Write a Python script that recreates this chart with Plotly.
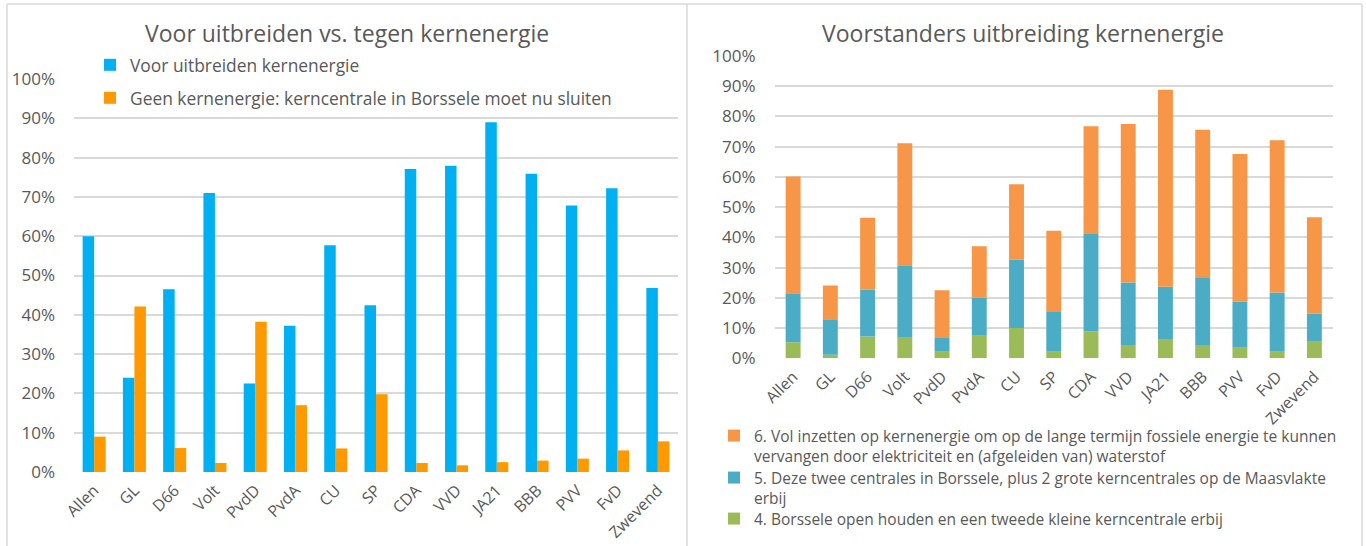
import numpy as np
import plotly.graph_objects as go

W, H = 1366, 546

categories = ["Allen", "GL", "D66", "Volt", "PvdD", "PvdA", "CU", "SP", "CDA",
              "VVD", "JA21", "BBB", "PVV", "FvD", "Zwevend"]

# Left chart: voor uitbreiden vs. tegen kernenergie (%)
voor_uitbreiden = [60.0, 24.0, 46.5, 71.0, 22.5, 37.2, 57.7, 42.4, 77.1, 77.9, 89.0, 75.9, 67.8, 72.2, 46.8]
geen_kernenergie = [9.0, 42.1, 6.1, 2.3, 38.2, 17.0, 6.0, 19.8, 2.3, 1.7, 2.5, 2.9, 3.4, 5.5, 7.8]

# Right chart: voorstanders uitbreiding, stacked segments (%)
optie4_borssele_klein = [5.3, 1.2, 7.2, 6.8, 2.2, 7.5, 10.0, 2.2, 8.9, 4.4, 6.4, 4.4, 3.5, 2.2, 5.5]
optie5_maasvlakte = [16.2, 11.7, 15.6, 24.0, 4.5, 12.5, 22.7, 13.1, 32.2, 20.7, 17.3, 22.2, 15.2, 19.6, 9.2]
optie6_vol_inzetten = [38.6, 11.2, 23.7, 40.3, 15.8, 17.1, 24.9, 26.9, 35.7, 52.4, 65.1, 49.0, 48.9, 50.3, 32.0]

tick_vals = [0, 10, 20, 30, 40, 50, 60, 70, 80, 90, 100]
tick_text = ["0%", "10%", "20%", "30%", "40%", "50%", "60%", "70%", "80%", "90%", "100%"]

FONT = "Open Sans, Liberation Sans, sans-serif"
TXT = "#595959"
GRID = "#d9d9d9"


def px(x):
    return x / W


def py(y):
    return 1 - y / H


fig = go.Figure()

# left chart
fig.add_trace(go.Bar(x=categories, y=voor_uitbreiden, name="Voor uitbreiden kernenergie",
                     marker=dict(color="#00B0F0", line=dict(width=0)),
                     width=0.2857, offset=-0.2857, xaxis="x", yaxis="y", legend="legend"))
fig.add_trace(go.Bar(x=categories, y=geen_kernenergie,
                     name="Geen kernenergie: kerncentrale in Borssele moet nu sluiten",
                     marker=dict(color="#FF9900", line=dict(width=0)),
                     width=0.2857, offset=0.0, xaxis="x", yaxis="y", legend="legend2"))

# right chart (stacked via base computed from data)
g = np.array(optie4_borssele_klein)
b = np.array(optie5_maasvlakte)
o = np.array(optie6_vol_inzetten)
fig.add_trace(go.Bar(x=categories, y=g, base=np.zeros_like(g),
                     name="4. Borssele open houden en een tweede kleine kerncentrale erbij",
                     marker=dict(color="#9BBB59", line=dict(width=0)),
                     width=0.4, offset=-0.2, xaxis="x2", yaxis="y2", legend="legend5"))
fig.add_trace(go.Bar(x=categories, y=b, base=g,
                     name="5. Deze twee centrales in Borssele, plus 2 grote kerncentrales op de Maasvlakte<br>erbij",
                     marker=dict(color="#4BACC6", line=dict(width=0)),
                     width=0.4, offset=-0.2, xaxis="x2", yaxis="y2", legend="legend4"))
fig.add_trace(go.Bar(x=categories, y=o, base=g + b,
                     name="6. Vol inzetten op kernenergie om op de lange termijn fossiele energie te kunnen<br>vervangen door elektriciteit en (afgeleiden van) waterstof",
                     marker=dict(color="#F79646", line=dict(width=0)),
                     width=0.4, offset=-0.2, xaxis="x2", yaxis="y2", legend="legend3"))

axis_common = dict(showline=False, zeroline=False, ticks="", automargin=False,
                   ticklabelstandoff=5,
                   tickfont=dict(family=FONT, size=16, color=TXT))
yaxis_common = dict(range=[0, 100], tickvals=tick_vals, ticktext=tick_text,
                    showgrid=True, gridcolor=GRID, gridwidth=1.5,
                    zeroline=False, showline=False, ticks="", automargin=False,
                    ticklabelstandoff=18,
                    tickfont=dict(family=FONT, size=17, color=TXT))

leg_font_l = dict(family=FONT, size=17.4, color=TXT)
leg_font_r = dict(family=FONT, size=15.5, color=TXT)
leg_common = dict(bgcolor="rgba(0,0,0,0)", borderwidth=0, xanchor="left",
                  itemwidth=30, itemclick=False, itemdoubleclick=False)

fig.update_layout(
    template="plotly_white",
    width=W, height=H,
    margin=dict(l=0, r=0, t=0, b=0, pad=0, autoexpand=False),
    paper_bgcolor="white", plot_bgcolor="white",
    barmode="overlay",
    showlegend=True,
    font=dict(family=FONT, color=TXT),
    xaxis=dict(domain=[px(74), px(678)], anchor="y", type="category",
               tickangle=-45, **axis_common),
    yaxis=dict(domain=[py(472), py(79)], anchor="x", **yaxis_common),
    xaxis2=dict(domain=[px(774.5), px(1333)], anchor="y2", type="category",
                tickangle=-45, **axis_common),
    yaxis2=dict(domain=[py(358.3), py(56)], anchor="x2", **yaxis_common),
    legend=dict(x=px(90), y=py(65), yanchor="middle", font=leg_font_l, visible=True, **leg_common),
    legend2=dict(x=px(90), y=py(98), yanchor="middle", font=leg_font_l, **leg_common),
    legend3=dict(x=px(714), y=py(419), yanchor="top", valign="top", font=leg_font_r, **leg_common),
    legend4=dict(x=px(714), y=py(461), yanchor="top", valign="top", font=leg_font_r, **leg_common),
    legend5=dict(x=px(714), y=py(502), yanchor="top", valign="top", font=leg_font_r, **leg_common),
    annotations=[
        dict(text="Voor uitbreiden vs. tegen kernenergie", x=px(347.5), y=py(33),
             xref="paper", yref="paper", showarrow=False, xanchor="center", yanchor="middle",
             font=dict(family=FONT, size=23, color=TXT)),
        dict(text="Voorstanders uitbreiding kernenergie", x=px(1022.5), y=py(33),
             xref="paper", yref="paper", showarrow=False, xanchor="center", yanchor="middle",
             font=dict(family=FONT, size=23, color=TXT)),
    ],
    shapes=[
        dict(type="line", xref="paper", yref="paper", x0=px(7), x1=px(1362), y0=py(4), y1=py(4),
             line=dict(color=GRID, width=1.5)),
        dict(type="line", xref="paper", yref="paper", x0=px(7), x1=px(7), y0=py(4), y1=0,
             line=dict(color=GRID, width=1.5)),
        dict(type="line", xref="paper", yref="paper", x0=px(687), x1=px(687), y0=py(4), y1=0,
             line=dict(color=GRID, width=1.5)),
        dict(type="line", xref="paper", yref="paper", x0=px(1362), x1=px(1362), y0=py(4), y1=0,
             line=dict(color=GRID, width=1.5)),
    ],
)

fig.write_html("out.html", config={"displayModeBar": False},
               post_script="document.body.style.margin='0';document.body.style.overflow='hidden';")
